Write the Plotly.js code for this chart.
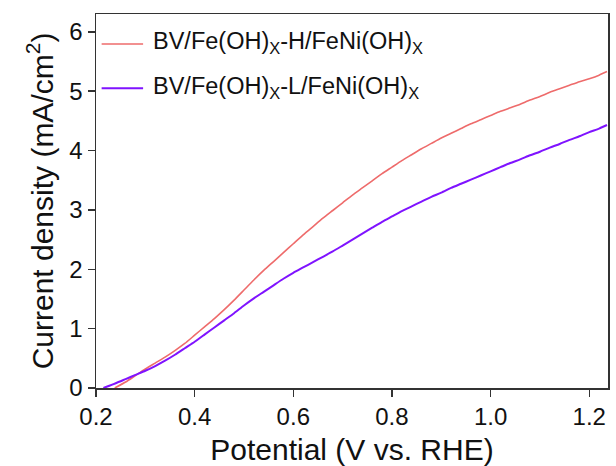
<!DOCTYPE html>
<html>
<head>
<meta charset="utf-8">
<script src="https://cdn.plot.ly/plotly-3.0.1.min.js"></script>
<style>html,body{margin:0;padding:0;background:#fff;}#chart{width:616px;height:466px;}</style>
</head>
<body>
<div id="chart"></div>
<script>
// Potential (V vs. RHE)
const xH = [0.238,0.26,0.28,0.30,0.32,0.34,0.36,0.38,0.40,0.42,0.44,0.46,0.48,0.50,0.52,0.54,0.56,0.58,0.60,0.62,0.64,0.66,0.68,0.70,0.72,0.74,0.76,0.78,0.80,0.82,0.84,0.86,0.88,0.90,0.92,0.94,0.96,0.98,1.00,1.02,1.04,1.06,1.08,1.10,1.12,1.14,1.16,1.18,1.20,1.22,1.236];
// Current density (mA/cm2), BV/Fe(OH)x-H/FeNi(OH)x
const yH = [0.00,0.10,0.21,0.32,0.42,0.52,0.63,0.75,0.89,1.03,1.17,1.32,1.48,1.65,1.82,1.98,2.13,2.28,2.43,2.58,2.72,2.86,2.99,3.12,3.25,3.37,3.49,3.61,3.72,3.83,3.93,4.03,4.12,4.21,4.29,4.37,4.45,4.52,4.59,4.66,4.72,4.78,4.85,4.91,4.98,5.04,5.10,5.16,5.21,5.27,5.33];
const xL = [0.215,0.24,0.26,0.28,0.30,0.32,0.34,0.36,0.38,0.40,0.42,0.44,0.46,0.48,0.50,0.52,0.54,0.56,0.58,0.60,0.62,0.64,0.66,0.68,0.70,0.72,0.74,0.76,0.78,0.80,0.82,0.84,0.86,0.88,0.90,0.92,0.94,0.96,0.98,1.00,1.02,1.04,1.06,1.08,1.10,1.12,1.14,1.16,1.18,1.20,1.22,1.236];
// Current density (mA/cm2), BV/Fe(OH)x-L/FeNi(OH)x
const yL = [0.00,0.08,0.15,0.22,0.29,0.37,0.46,0.56,0.67,0.78,0.90,1.02,1.14,1.26,1.39,1.51,1.62,1.73,1.84,1.94,2.03,2.12,2.21,2.30,2.40,2.50,2.60,2.70,2.80,2.89,2.98,3.06,3.14,3.22,3.29,3.37,3.44,3.51,3.58,3.65,3.72,3.79,3.85,3.92,3.98,4.05,4.11,4.18,4.24,4.31,4.37,4.43];
const seriesNames = ['BV/Fe(OH)<sub>X</sub>-H/FeNi(OH)<sub>X</sub>', 'BV/Fe(OH)<sub>X</sub>-L/FeNi(OH)<sub>X</sub>'];
const seriesColors = ['#ee6b6b', '#7f13ff'];
const xTickVals = [0.2,0.4,0.6,0.8,1.0,1.2];
const yTickVals = [0,1,2,3,4,5,6];

const FONT = 'Liberation Sans, Arial, sans-serif';
const traces = [
  {x: xH, y: yH, type: 'scatter', mode: 'lines', name: seriesNames[0],
   line: {color: seriesColors[0], width: 1.6, shape: 'spline', smoothing: 0.6}},
  {x: xL, y: yL, type: 'scatter', mode: 'lines', name: seriesNames[1],
   line: {color: seriesColors[1], width: 2, shape: 'spline', smoothing: 0.6}}
];
const axisCommon = {
  showline: true, linecolor: '#333', linewidth: 1.5, mirror: true,
  ticks: 'outside', ticklen: 7, tickwidth: 1.5, tickcolor: '#333',
  showgrid: false, zeroline: false,
  tickfont: {family: FONT, size: 24, color: '#111'}
};
// legend (drawn as line samples + labels)
const legLineY = [0.9198, 0.8013];
const legTextY = [0.9225, 0.8025];
const shapes = seriesNames.map((n, i) => ({
  type: 'line', xref: 'paper', yref: 'paper', x0: 0.011, x1: 0.092, y0: legLineY[i], y1: legLineY[i],
  line: {color: seriesColors[i], width: i === 0 ? 1.6 : 2}
}));
const annotations = seriesNames.map((n, i) => ({
  text: n, xref: 'paper', yref: 'paper', x: 0.107, y: legTextY[i], xanchor: 'left', yanchor: 'middle',
  showarrow: false, font: {family: FONT, size: 23.5, color: '#111'}
}));
const layout = {
  width: 616, height: 466,
  margin: {l: 96, r: 8, t: 14, b: 78},
  paper_bgcolor: '#fff', plot_bgcolor: '#fff',
  font: {family: FONT, color: '#111'},
  xaxis: Object.assign({}, axisCommon, {
    range: [0.2, 1.238], tickvals: xTickVals, ticktext: xTickVals.map(v => v.toFixed(1)),
    title: {text: 'Potential (V vs. RHE)', font: {family: FONT, size: 30, color: '#111'}, standoff: 10}
  }),
  yaxis: Object.assign({}, axisCommon, {
    range: [0, 6.3], tickvals: yTickVals,
    title: {text: 'Current density (mA/cm<sup>2</sup>)', font: {family: FONT, size: 30, color: '#111'}, standoff: 7}
  }),
  showlegend: false,
  shapes: shapes,
  annotations: annotations
};
Plotly.newPlot('chart', traces, layout, {displayModeBar: false, staticPlot: true});
</script>
</body>
</html>
